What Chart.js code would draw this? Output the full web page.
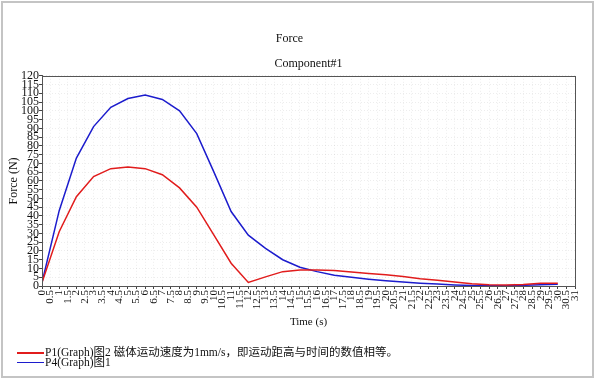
<!DOCTYPE html>
<html>
<head>
<meta charset="utf-8">
<script src="https://cdn.jsdelivr.net/npm/chart.js@4/dist/chart.umd.min.js"></script>
<style>
    html, body { margin: 0; padding: 0; background: #fff; }
    #wrap { position: relative; width: 595px; height: 379px; }
    #legend {
        position: absolute; left: 17px; top: 348px;
        font-family: "Liberation Serif", "Noto Sans CJK SC", serif;
        font-size: 11.5px; line-height: 9.5px; color: #111;
    }
    .item { display: flex; align-items: center; white-space: nowrap; height: 9.5px; }
    .swatch { width: 27px; height: 1.5px; margin-right: 1px; }
</style>
</head>
<body>
<div id="wrap">
    <canvas id="forceChart" width="595" height="379"></canvas>
    <div id="legend"></div>
</div>
<script>
// Chart data
const timeValues = [0, 1, 2, 3, 4, 5, 6, 7, 8, 9, 10, 11, 12, 13, 14, 15, 16, 17, 18, 19, 20, 21, 22, 23, 24, 25, 26, 27, 28, 29, 30];
const p1Values = [2, 31, 51, 62.5, 67, 68, 67, 63.5, 56, 45, 29, 13, 2, 5.2, 8.2, 9.2, 9.1, 8.8, 8.0, 7.2, 6.4, 5.4, 4.2, 3.3, 2.3, 1.3, 0.7, 0.6, 0.9, 1.5, 1.6];
const p4Values = [2, 43, 73, 91, 102, 107, 109, 106.5, 100, 87, 65, 42.5, 29, 21.5, 15, 10.7, 8.2, 6.2, 5.0, 3.9, 3.0, 2.3, 1.6, 1.1, 0.6, 0.3, 0.2, 0.2, 0.4, 0.7, 1.0];
const seriesLabels = ["P1(Graph)图2 磁体运动速度为1mm/s，即运动距高与时间的数值相等。", "P4(Graph)图1"];
const seriesColors = ["rgb(225, 28, 28)", "rgb(28, 28, 205)"];
const chartTitle = "Force";
const chartSubtitle = "Component#1";
const xTitle = "Time (s)";
const yTitle = "Force (N)";

const serif = "'Liberation Serif', 'Times New Roman', serif";

function toPoints(values) {
    return timeValues.map((t, i) => ({ x: t, y: values[i] }));
}

// Frame around the plot area and the whole picture
const framePlugin = {
    id: "frames",
    beforeDraw(chart) {
        const ctx = chart.ctx;
        ctx.save();
        ctx.fillStyle = "#fff";
        ctx.fillRect(0, 0, chart.width, chart.height);
        ctx.strokeStyle = "#c4c4c4";
        ctx.lineWidth = 2;
        ctx.strokeRect(2, 2, chart.width - 4, chart.height - 4);
        ctx.restore();
    },
    afterDraw(chart) {
        const a = chart.chartArea;
        const ctx = chart.ctx;
        ctx.save();
        ctx.strokeStyle = "#555";
        ctx.lineWidth = 1;
        ctx.strokeRect(Math.round(a.left) + 0.5, Math.round(a.top) + 0.5, Math.round(a.right - a.left), Math.round(a.bottom - a.top));
        ctx.restore();
    }
};

const chart = new Chart(document.getElementById("forceChart"), {
    type: "line",
    data: {
        datasets: [
            { label: seriesLabels[0], data: toPoints(p1Values), borderColor: seriesColors[0], borderWidth: 1.5, pointRadius: 0, tension: 0 },
            { label: seriesLabels[1], data: toPoints(p4Values), borderColor: seriesColors[1], borderWidth: 1.5, pointRadius: 0, tension: 0 }
        ]
    },
    options: {
        responsive: false,
        animation: false,
        devicePixelRatio: 1,
        layout: { padding: { left: 4, right: 20, top: 0, bottom: 49 } },
        plugins: {
            legend: { display: false },
            tooltip: { enabled: false },
            title: {
                display: true, text: chartTitle, color: "#111",
                font: { family: serif, size: 12, weight: "normal" },
                padding: { top: 32, bottom: 0 }
            },
            subtitle: {
                display: true, text: chartSubtitle, color: "#111", fullSize: false,
                font: { family: serif, size: 12, weight: "normal" },
                padding: { top: 10, bottom: 5 }
            }
        },
        scales: {
            x: {
                type: "linear", min: 0, max: 31,
                ticks: {
                    stepSize: 0.5, autoSkip: false, minRotation: 90, maxRotation: 90,
                    padding: 1, color: "#111", font: { family: serif, size: 11 },
                    callback: v => String(Math.round(v * 10) / 10)
                },
                grid: { color: "rgba(0,0,0,0.07)", tickColor: "#444", tickLength: 3 },
                border: { color: "#555", dash: [1, 2] },
                title: { display: true, text: xTitle, color: "#111", font: { family: serif, size: 11 }, padding: { top: 0, bottom: 1 } },
                afterFit(scale) { scale.height = 44; }
            },
            y: {
                min: 0, max: 120,
                ticks: {
                    stepSize: 5, autoSkip: false, padding: 0,
                    color: "#111", font: { family: serif, size: 12 }
                },
                grid: { color: "rgba(0,0,0,0.07)", tickColor: "#444", tickLength: 3 },
                border: { color: "#555", dash: [1, 2] },
                title: { display: true, text: yTitle, color: "#111", font: { family: serif, size: 12 }, padding: { top: 3, bottom: 0 } },
                afterFit(scale) { scale.width = 38; }
            }
        }
    },
    plugins: [framePlugin]
});

// HTML legend built from the datasets
const legendBox = document.getElementById("legend");
chart.data.datasets.forEach(ds => {
    const row = document.createElement("div");
    row.className = "item";
    const swatch = document.createElement("span");
    swatch.className = "swatch";
    swatch.style.background = ds.borderColor;
    const text = document.createElement("span");
    text.textContent = ds.label;
    row.appendChild(swatch);
    row.appendChild(text);
    legendBox.appendChild(row);
});
</script>
</body>
</html>
